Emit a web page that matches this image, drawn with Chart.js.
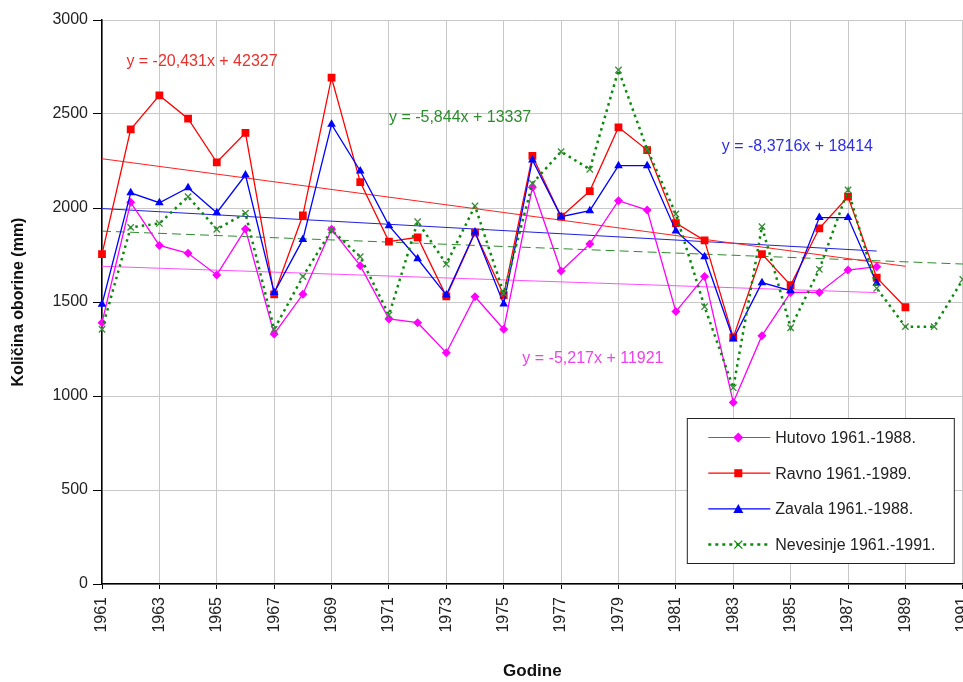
<!DOCTYPE html>
<html>
<head>
<meta charset="utf-8">
<script src="https://cdn.jsdelivr.net/npm/chart.js@4.4.1/dist/chart.umd.min.js"></script>
<style>
    html, body { margin: 0; padding: 0; background: #fff; overflow: hidden; }
    #wrap { width: 990px; height: 682px; }
</style>
</head>
<body>
<div id="wrap"><canvas id="oborineChart"></canvas></div>
<script>
// =====================================
// Data
// =====================================
const years = ["1961", "1962", "1963", "1964", "1965", "1966", "1967", "1968", "1969", "1970",
    "1971", "1972", "1973", "1974", "1975", "1976", "1977", "1978", "1979", "1980",
    "1981", "1982", "1983", "1984", "1985", "1986", "1987", "1988", "1989", "1990", "1991"];

const hutovo = [1390, 2030, 1801, 1759, 1644, 1888, 1330, 1541, 1887, 1693,
    1410, 1390, 1230, 1528, 1355, 2110, 1665, 1809, 2039, 1989,
    1449, 1635, 966, 1321, 1551, 1551, 1670, 1688];

const ravno = [1755, 2418, 2599, 2475, 2243, 2400, 1541, 1961, 2693, 2138,
    1821, 1844, 1530, 1869, 1537, 2277, 1954, 2090, 2429, 2308,
    1920, 1828, 1312, 1755, 1590, 1892, 2060, 1629, 1472];

const zavala = [1488, 2081, 2028, 2108, 1975, 2175, 1550, 1833, 2445, 2197,
    1906, 1730, 1537, 1872, 1489, 2255, 1954, 1986, 2225, 2225,
    1878, 1741, 1303, 1603, 1560, 1949, 1949, 1600];

const nevesinje = [1355, 1897, 1918, 2060, 1887, 1972, 1355, 1635, 1883, 1741,
    1431, 1927, 1702, 2011, 1546, 2131, 2300, 2206, 2734, 2312,
    1968, 1475, 1044, 1901, 1363, 1674, 2096, 1573, 1369, 1369, 1620];

// linear trend lines: start and end points
const trendHutovo = [{ x: "1961", y: 1690 }, { x: "1988", y: 1550 }];
const trendRavno = [{ x: "1961", y: 2262 }, { x: "1989", y: 1690 }];
const trendZavala = [{ x: "1961", y: 1997 }, { x: "1988", y: 1771 }];
const trendNevesinje = [{ x: "1961", y: 1877 }, { x: "1991", y: 1702 }];

const yTicks = [0, 500, 1000, 1500, 2000, 2500, 3000];

// trend equations, anchored in data space (year, mm)
const equations = [
    { text: "y = -20,431x + 42327", color: "#e8302c", year: 1961.85, mm: 2777 },
    { text: "y = -5,844x + 13337", color: "#2e8b2e", year: 1971.0, mm: 2480 },
    { text: "y = -8,3716x + 18414", color: "#3030e0", year: 1982.6, mm: 2325 },
    { text: "y = -5,217x + 11921", color: "#ee40ee", year: 1975.65, mm: 1200 }
];

const legendItems = [
    { label: "Hutovo 1961.-1988.", color: "#ff00ff", shape: "diamond", dash: [] },
    { label: "Ravno 1961.-1989.", color: "#ff0000", shape: "square", dash: [] },
    { label: "Zavala 1961.-1988.", color: "#0000ff", shape: "triangle", dash: [] },
    { label: "Nevesinje 1961.-1991.", color: "#0a8a0a", shape: "cross", dash: [3, 4] }
];

const FONT = '"Liberation Sans", Arial, sans-serif';

function drawShape(ctx, shape, x, y, color) {
    ctx.save();
    ctx.fillStyle = color;
    ctx.strokeStyle = color;
    ctx.setLineDash([]);
    ctx.beginPath();
    if (shape === "diamond") {
        ctx.moveTo(x, y - 5); ctx.lineTo(x + 5, y); ctx.lineTo(x, y + 5); ctx.lineTo(x - 5, y);
        ctx.closePath(); ctx.fill();
    } else if (shape === "square") {
        ctx.rect(x - 4, y - 4, 8, 8); ctx.fill();
    } else if (shape === "triangle") {
        ctx.moveTo(x, y - 5); ctx.lineTo(x + 5, y + 4); ctx.lineTo(x - 5, y + 4);
        ctx.closePath(); ctx.fill();
    } else {
        ctx.lineWidth = 1.3;
        ctx.moveTo(x - 4, y - 4); ctx.lineTo(x + 4, y + 4);
        ctx.moveTo(x + 4, y - 4); ctx.lineTo(x - 4, y + 4);
        ctx.stroke();
    }
    ctx.restore();
}

// equations + boxed legend inside the plot
const overlay = {
    id: "overlay",
    afterDatasetsDraw(chart) {
        const { ctx, chartArea, scales } = chart;
        ctx.save();
        ctx.font = "16px " + FONT;
        ctx.textBaseline = "middle";
        ctx.textAlign = "left";
        equations.forEach(e => {
            ctx.fillStyle = e.color;
            ctx.fillText(e.text, scales.x.getPixelForValue(e.year - 1961), scales.y.getPixelForValue(e.mm));
        });

        const w = 267, h = 145;
        const lx = chartArea.right - 275.5;
        const ly = chartArea.bottom - 165.5;
        ctx.fillStyle = "#fff";
        ctx.fillRect(lx, ly, w, h);
        ctx.strokeStyle = "#222";
        ctx.lineWidth = 1;
        ctx.strokeRect(lx, ly, w, h);

        legendItems.forEach((item, i) => {
            const y = ly + 19 + i * 35.7;
            ctx.save();
            ctx.strokeStyle = item.color;
            ctx.lineWidth = item.dash.length ? 2.5 : 1.2;
            ctx.setLineDash(item.dash);
            ctx.beginPath();
            ctx.moveTo(lx + 21, y);
            ctx.lineTo(lx + 83, y);
            ctx.stroke();
            ctx.restore();
            drawShape(ctx, item.shape, lx + 51, y, item.color);
            ctx.fillStyle = "#222";
            ctx.fillText(item.label, lx + 88, y + 1);
        });
        ctx.restore();
    }
};

const trendStyle = {
    borderWidth: 1,
    pointRadius: 0,
    fill: false,
    order: 10
};

new Chart(document.getElementById("oborineChart"), {
    type: "line",
    data: {
        labels: years,
        datasets: [
            Object.assign({ data: trendRavno, borderColor: "#ff2020" }, trendStyle),
            Object.assign({ data: trendZavala, borderColor: "#2020e0" }, trendStyle),
            Object.assign({ data: trendHutovo, borderColor: "#ff50ff" }, trendStyle),
            Object.assign({ data: trendNevesinje, borderColor: "#2e8b2e", borderDash: [9, 5] }, trendStyle),
            {
                label: "Hutovo 1961.-1988.",
                data: hutovo,
                borderColor: "#ff00ff",
                backgroundColor: "#ff00ff",
                borderWidth: 1.3,
                pointStyle: "rectRot",
                pointRadius: 4.5,
                pointBorderWidth: 0,
                order: 4
            },
            {
                label: "Ravno 1961.-1989.",
                data: ravno,
                borderColor: "#ff0000",
                backgroundColor: "#ff0000",
                borderWidth: 1.3,
                pointStyle: "rect",
                pointRadius: 5.5,
                pointBorderWidth: 0,
                order: 3
            },
            {
                label: "Zavala 1961.-1988.",
                data: zavala,
                borderColor: "#0000ff",
                backgroundColor: "#0000ff",
                borderWidth: 1.3,
                pointStyle: "triangle",
                pointRadius: 5,
                pointBorderWidth: 0,
                order: 2
            },
            {
                label: "Nevesinje 1961.-1991.",
                data: nevesinje,
                borderColor: "#0a8a0a",
                backgroundColor: "#0a8a0a",
                borderWidth: 2.5,
                borderDash: [2.5, 4],
                pointStyle: "crossRot",
                pointRadius: 4.5,
                pointBorderColor: "#3a8a3a",
                pointBorderWidth: 1.3,
                order: 1
            }
        ]
    },
    options: {
        responsive: true,
        maintainAspectRatio: false,
        animation: false,
        layout: { padding: { top: 20, right: 0, bottom: 0, left: 0 } },
        plugins: {
            legend: { display: false },
            tooltip: { enabled: false }
        },
        scales: {
            x: {
                type: "category",
                offset: false,
                afterFit: scale => { scale.height = 98; },
                border: { color: "#000", width: 1.5 },
                grid: {
                    color: c => c.index % 2 === 0 ? "#c8c8c8" : "rgba(0,0,0,0)",
                    tickColor: c => c.index % 2 === 0 ? "#000" : "rgba(0,0,0,0)",
                    tickLength: 5
                },
                ticks: {
                    autoSkip: false,
                    minRotation: 90,
                    maxRotation: 90,
                    padding: 8,
                    color: "#222",
                    font: { family: FONT, size: 16 },
                    callback: (v, i) => i % 2 === 0 ? years[i] : ""
                },
                title: {
                    display: true,
                    text: "Godine",
                    color: "#111",
                    font: { family: FONT, size: 17, weight: "bold" },
                    padding: { top: 0, bottom: 0 }
                }
            },
            y: {
                min: 0,
                max: 3000,
                afterFit: scale => { scale.width = 102; },
                afterBuildTicks: scale => { scale.ticks = yTicks.map(v => ({ value: v })); },
                border: { color: "#000", width: 1.5 },
                grid: { color: "#c8c8c8", tickColor: "#000", tickLength: 9 },
                ticks: {
                    padding: 5,
                    color: "#222",
                    font: { family: FONT, size: 16 },
                    callback: v => String(v)
                },
                title: {
                    display: true,
                    text: "Količina oborine (mm)",
                    color: "#111",
                    font: { family: FONT, size: 16, weight: "bold" },
                    padding: { top: 9, bottom: 0 }
                }
            }
        }
    },
    plugins: [overlay]
});
</script>
</body>
</html>
